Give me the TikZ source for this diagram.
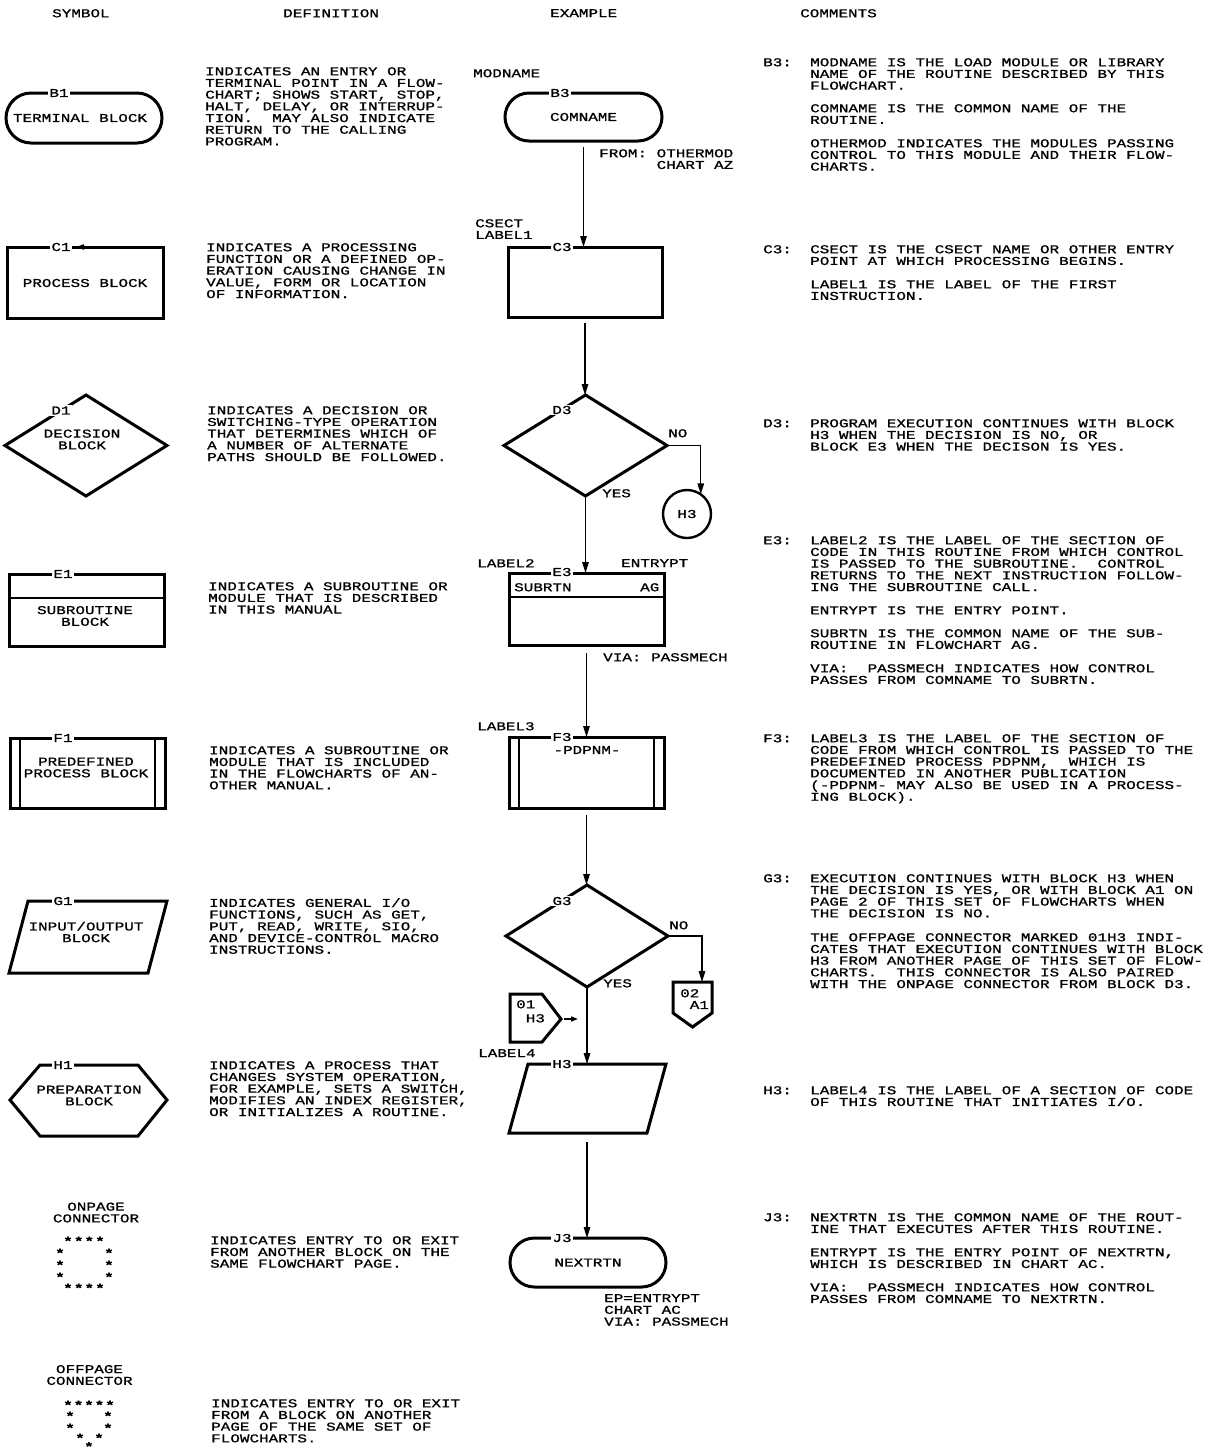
\documentclass[tikz,border=0pt]{standalone}
\usepackage{fontspec}
\usetikzlibrary{arrows.meta,shapes.geometric,shapes.misc}
\newfontfamily\ibm[FakeStretch=1.33,FakeBold=1]{Liberation Mono}
\newcommand\ibmfont{\ibm\fontsize{12}{11.7}\selectfont\lineskiplimit=-20pt\relax\frenchspacing}
\begin{document}
\begin{tikzpicture}[x=1pt,y=-1pt,
  txt/.style={font=\ibmfont, inner sep=0pt, align=left, anchor=north west},
  ctr/.style={font=\ibmfont, inner sep=0pt, align=center},
  shp/.style={draw, line width=3pt, inner sep=0pt, outer sep=0pt},
  inl/.style={draw, line width=2.5pt},
  lbl/.style={font=\ibmfont, fill=white, inner sep=1.2pt},
  arr/.style={line width=1.4pt, -{Triangle[length=11pt,width=6.5pt]}},
  arrs/.style={line width=1.4pt, -{Triangle[length=7pt,width=5pt]}},
  ast/.style={font=\ibm\bfseries\fontsize{12}{12}\selectfont, inner sep=0pt}]
\useasboundingbox (0,0) rectangle (1209,1452);
\fill[white] (0,0) rectangle (1209,1452);

% headers
\node[txt] (hs) at (52,9) {SYMBOL};
\node[txt] (hd) at (283,9) {DEFINITION};
\node[txt] (he) at (550,9) {EXAMPLE};
\node[txt] (hc) at (800,9) {COMMENTS};

% ---------------- symbol column
\node[shp, rounded rectangle, minimum width=156pt, minimum height=50pt] (b1) at (84,118) {};
\node[ctr] (b1t) at (80,118) {TERMINAL BLOCK};
\node[lbl] (b1l) at (59,93) {B1};

\node[shp, rectangle, minimum width=156pt, minimum height=71pt] (c1) at (85,282.5) {};
\node[ctr] (c1t) at (85,283) {PROCESS BLOCK};
\node[lbl] (c1l) at (61,247) {C1};
\fill (76,247) -- (84,244.2) -- (84,249.8) -- cycle;

\node[shp, diamond, minimum width=162pt, minimum height=101pt] (d1) at (86,445.5) {};
\node[ctr] (d1t) at (82,439.5) {DECISION\\BLOCK};
\node[lbl] (d1l) at (61,410.5) {D1};

\node[shp, minimum width=155pt, minimum height=72pt] (e1) at (86.5,610) {};
\draw[inl] ([yshift=-24pt]e1.north west) -- ([yshift=-24pt]e1.north east);
\node[ctr] (e1t) at (85,616) {SUBROUTINE\\BLOCK};
\node[lbl] (e1l) at (63,574) {E1};

\node[shp, minimum width=155pt, minimum height=70pt] (f1) at (87.5,773) {};
\draw[inl] ([xshift=10pt]f1.north west) -- ([xshift=10pt]f1.south west);
\draw[inl] ([xshift=-10pt]f1.north east) -- ([xshift=-10pt]f1.south east);
\node[ctr] (f1t) at (86,767.5) {PREDEFINED\\PROCESS BLOCK};
\node[lbl] (f1l) at (63,738) {F1};

\draw[shp] (28,901) -- (167,901) -- (148,973) -- (9,973) -- cycle;
\node[ctr] (g1t) at (86,932) {INPUT/OUTPUT\\BLOCK};
\node[lbl] (g1l) at (63,901) {G1};

\draw[shp] (10,1100) -- (40,1065) -- (138,1065) -- (167,1100) -- (138,1136) -- (40,1136) -- cycle;
\node[ctr] (h1t) at (89,1095.5) {PREPARATION\\BLOCK};
\node[lbl] (h1l) at (63,1065) {H1};

\node[ctr] (ont) at (96,1212.5) {ONPAGE\\CONNECTOR};
\foreach \x [count=\i] in {68,78.7,89.3,100} {
  \node[ast] (ona\i) at (\x,1241) {*};
  \node[ast] (onb\i) at (\x,1288) {*};}
\foreach \y [count=\i] in {1251,1263,1275} {
  \node[ast] (onl\i) at (60,\y+2) {*};
  \node[ast] (onr\i) at (109,\y+2) {*};}

\node[ctr] (offt) at (89.5,1375) {OFFPAGE\\CONNECTOR};
\foreach \x [count=\i] in {68,78.5,89,99.5,110} {
  \node[ast] (ofa\i) at (\x,1405) {*};}
\foreach \y [count=\i] in {1414,1426} {
  \node[ast] (ofl\i) at (70,\y+2) {*};
  \node[ast] (ofr\i) at (108,\y+2) {*};}
\node[ast] (ofc1) at (80,1438) {*};
\node[ast] (ofc2) at (99,1438) {*};
\node[ast] (ofp) at (89,1446.5) {*};

% ---------------- definitions
\node[txt] (db1) at (205,67) {INDICATES AN ENTRY OR\\TERMINAL POINT IN A FLOW-\\CHART; SHOWS START, STOP,\\HALT, DELAY, OR INTERRUP-\\TION.~~MAY ALSO INDICATE\\RETURN TO THE CALLING\\PROGRAM.};
\node[txt] (dc1) at (206,243) {INDICATES A PROCESSING\\FUNCTION OR A DEFINED OP-\\ERATION CAUSING CHANGE IN\\VALUE, FORM OR LOCATION\\OF INFORMATION.};
\node[txt] (dd1) at (207,406) {INDICATES A DECISION OR\\SWITCHING-TYPE OPERATION\\THAT DETERMINES WHICH OF\\A NUMBER OF ALTERNATE\\PATHS SHOULD BE FOLLOWED.};
\node[txt] (de1) at (208,582) {INDICATES A SUBROUTINE OR\\MODULE THAT IS DESCRIBED\\IN THIS MANUAL};
\node[txt] (df1) at (209,746) {INDICATES A SUBROUTINE OR\\MODULE THAT IS INCLUDED\\IN THE FLOWCHARTS OF AN-\\OTHER MANUAL.};
\node[txt] (dg1) at (209,898) {INDICATES GENERAL I/O\\FUNCTIONS, SUCH AS GET,\\PUT, READ, WRITE, SIO,\\AND DEVICE-CONTROL MACRO\\INSTRUCTIONS.};
\node[txt] (dh1) at (209,1061) {INDICATES A PROCESS THAT\\CHANGES SYSTEM OPERATION,\\FOR EXAMPLE, SETS A SWITCH,\\MODIFIES AN INDEX REGISTER,\\OR INITIALIZES A ROUTINE.};
\node[txt] (don) at (210,1236) {INDICATES ENTRY TO OR EXIT\\FROM ANOTHER BLOCK ON THE\\SAME FLOWCHART PAGE.};
\node[txt] (doff) at (211,1399) {INDICATES ENTRY TO OR EXIT\\FROM A BLOCK ON ANOTHER\\PAGE OF THE SAME SET OF\\FLOWCHARTS.};

% ---------------- example column
\node[txt] (modname) at (473,69) {MODNAME};
\node[shp, ctr, rounded rectangle, minimum width=157pt, minimum height=48pt] (b3) at (583.5,117) {COMNAME};
\node[lbl] (b3l) at (560,93) {B3};
\node[txt] (from) at (599,149) {FROM: OTHERMOD\\\phantom{FROM:~}CHART AZ};

\node[txt] (csect) at (475,219) {CSECT\\LABEL1};
\node[shp, minimum width=154pt, minimum height=70pt] (c3) at (585,282) {};
\node[lbl] (c3l) at (562,247) {C3};
\draw[arr, shorten <=6pt] (b3.south) -- (b3.south |- c3.north);

\node[shp, diamond, minimum width=163pt, minimum height=101pt] (d3) at (585.5,445.5) {};
\node[lbl] (d3l) at (562,410) {D3};
\draw[arr, shorten <=6pt] (c3.south) -- (c3.south |- d3.north);
\node[txt] (no1) at (668,429) {NO};
\node[txt] (yes1) at (602,489) {YES};
\node[shp, ctr, circle, line width=2.4pt, minimum size=48pt] (h3c) at (687,514) {H3};
\draw[arr] (d3.east) -| (h3c.55);

\node[txt] (label2) at (477,559) {LABEL2};
\node[txt] (entrypt) at (621,559) {ENTRYPT};
\node[shp, minimum width=155pt, minimum height=72pt] (e3) at (586.5,609) {};
\draw[inl] ([yshift=-24pt]e3.north west) -- ([yshift=-24pt]e3.north east);
\node[txt] (subrtn) at (514,583) {SUBRTN};
\node[txt] (ag) at (640,583) {AG};
\node[lbl] (e3l) at (562,572) {E3};
\draw[arr] (d3.south) -- (d3.south |- e3.north);
\node[txt] (via1) at (603,653) {VIA: PASSMECH};

\node[txt] (label3) at (477,722) {LABEL3};
\node[shp, minimum width=155pt, minimum height=71pt] (f3) at (586.5,772.5) {};
\draw[inl] ([xshift=10pt]f3.north west) -- ([xshift=10pt]f3.south west);
\draw[inl] ([xshift=-10pt]f3.north east) -- ([xshift=-10pt]f3.south east);
\node[ctr] (pdpnm) at (587,750) {-PDPNM-};
\node[lbl] (f3l) at (562,737) {F3};
\draw[arr, shorten <=8pt] (e3.south) -- (e3.south |- f3.north);

\node[shp, diamond, minimum width=162pt, minimum height=102pt] (g3) at (587,936) {};
\node[lbl] (g3l) at (562,901) {G3};
\draw[arr, shorten <=7pt] (f3.south) -- (f3.south |- g3.north);
\node[txt] (no2) at (669,921) {NO};
\node[txt] (yes2) at (603,979) {YES};

\draw[shp] (673,982) -- (712,982) -- (712,1013) -- (692.5,1027) -- (673,1013) -- cycle;
\coordinate (o2in) at (702,982);
\draw[arr] (g3.east) -| (o2in);
\node[txt] (o2t) at (680,989) {02\\\phantom{0}A1};

\draw[shp] (510,994) -- (542,994) -- (561,1019) -- (542,1042) -- (510,1042) -- cycle;
\coordinate (o1tip) at (561,1019);
\coordinate (o1to) at (578,1019);
\draw[arrs, shorten <=3pt] (o1tip) -- (o1to);
\node[txt, font=\ibm\fontsize{12}{14}\selectfont] (o1t) at (516,1000) {01\\\phantom{0}H3};

\node[txt] (label4) at (478,1049) {LABEL4};
\draw[shp] (528,1064) -- (666,1064) -- (647,1133) -- (509,1133) -- cycle;
\coordinate (h3top) at (587,1064);
\coordinate (h3bot) at (587,1133);
\node[lbl] (h3l) at (562,1064) {H3};
\draw[arr] (g3.south) -- (h3top);

\node[shp, ctr, rounded rectangle, minimum width=156pt, minimum height=49pt] (j3) at (588,1262.5) {NEXTRTN};
\node[lbl] (j3l) at (562,1238) {J3};
\draw[arr, shorten <=9pt] (h3bot) -- (h3bot |- j3.north);
\node[txt] (ep) at (604,1294) {EP=ENTRYPT\\CHART AC\\VIA: PASSMECH};

% ---------------- comments
\node[txt] (kb3) at (763,58) {B3:};
\node[txt] (cb3a) at (810,58) {MODNAME IS THE LOAD MODULE OR LIBRARY\\NAME OF THE ROUTINE DESCRIBED BY THIS\\FLOWCHART.};
\node[txt] (cb3b) at (810,104) {COMNAME IS THE COMMON NAME OF THE\\ROUTINE.};
\node[txt] (cb3c) at (810,139) {OTHERMOD INDICATES THE MODULES PASSING\\CONTROL TO THIS MODULE AND THEIR FLOW-\\CHARTS.};

\node[txt] (kc3) at (763,245) {C3:};
\node[txt] (cc3a) at (810,245) {CSECT IS THE CSECT NAME OR OTHER ENTRY\\POINT AT WHICH PROCESSING BEGINS.};
\node[txt] (cc3b) at (810,280) {LABEL1 IS THE LABEL OF THE FIRST\\INSTRUCTION.};

\node[txt] (kd3) at (763,419) {D3:};
\node[txt] (cd3) at (810,419) {PROGRAM EXECUTION CONTINUES WITH BLOCK\\H3 WHEN THE DECISION IS NO, OR\\BLOCK E3 WHEN THE DECISON IS YES.};

\node[txt] (ke3) at (763,536) {E3:};
\node[txt] (ce3a) at (810,536) {LABEL2 IS THE LABEL OF THE SECTION OF\\CODE IN THIS ROUTINE FROM WHICH CONTROL\\IS PASSED TO THE SUBROUTINE.~~CONTROL\\RETURNS TO THE NEXT INSTRUCTION FOLLOW-\\ING THE SUBROUTINE CALL.};
\node[txt] (ce3b) at (810,606) {ENTRYPT IS THE ENTRY POINT.};
\node[txt] (ce3c) at (810,629) {SUBRTN IS THE COMMON NAME OF THE SUB-\\ROUTINE IN FLOWCHART AG.};
\node[txt] (ce3d) at (810,664) {VIA:~~PASSMECH INDICATES HOW CONTROL\\PASSES FROM COMNAME TO SUBRTN.};

\node[txt] (kf3) at (763,734) {F3:};
\node[txt] (cf3) at (810,734) {LABEL3 IS THE LABEL OF THE SECTION OF\\CODE FROM WHICH CONTROL IS PASSED TO THE\\PREDEFINED PROCESS PDPNM,~~WHICH IS\\DOCUMENTED IN ANOTHER PUBLICATION\\(-PDPNM- MAY ALSO BE USED IN A PROCESS-\\ING BLOCK).};

\node[txt] (kg3) at (763,874) {G3:};
\node[txt] (cg3a) at (810,874) {EXECUTION CONTINUES WITH BLOCK H3 WHEN\\THE DECISION IS YES, OR WITH BLOCK A1 ON\\PAGE 2 OF THIS SET OF FLOWCHARTS WHEN\\THE DECISION IS NO.};
\node[txt] (cg3b) at (810,933) {THE OFFPAGE CONNECTOR MARKED 01H3 INDI-\\CATES THAT EXECUTION CONTINUES WITH BLOCK\\H3 FROM ANOTHER PAGE OF THIS SET OF FLOW-\\CHARTS.~~THIS CONNECTOR IS ALSO PAIRED\\WITH THE ONPAGE CONNECTOR FROM BLOCK D3.};

\node[txt] (kh3) at (763,1086) {H3:};
\node[txt] (ch3) at (810,1086) {LABEL4 IS THE LABEL OF A SECTION OF CODE\\OF THIS ROUTINE THAT INITIATES I/O.};

\node[txt] (kj3) at (763,1213) {J3:};
\node[txt] (cj3a) at (810,1213) {NEXTRTN IS THE COMMON NAME OF THE ROUT-\\INE THAT EXECUTES AFTER THIS ROUTINE.};
\node[txt] (cj3b) at (810,1248) {ENTRYPT IS THE ENTRY POINT OF NEXTRTN,\\WHICH IS DESCRIBED IN CHART AC.};
\node[txt] (cj3c) at (810,1283) {VIA:~~PASSMECH INDICATES HOW CONTROL\\PASSES FROM COMNAME TO NEXTRTN.};
\end{tikzpicture}
\end{document}
